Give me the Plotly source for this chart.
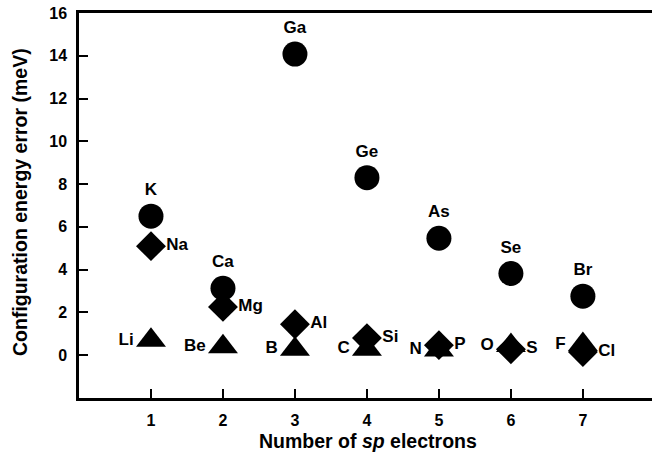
import plotly.graph_objects as go

# Data
circ_x = [1, 2, 3, 4, 5, 6, 7]
circ_y = [6.5, 3.13, 14.08, 8.3, 5.47, 3.82, 2.76]
circ_lab = ["K", "Ca", "Ga", "Ge", "As", "Se", "Br"]

dia_x = [1, 2, 3, 4, 5, 6, 7]
dia_y = [5.1, 2.26, 1.45, 0.8, 0.47, 0.28, 0.15]
dia_lab = ["Na", "Mg", "Al", "Si", "P", "S", "Cl"]

tri_x = [1, 2, 3, 4, 5, 6, 7]
tri_y = [0.7, 0.4, 0.28, 0.28, 0.25, 0.45, 0.5]
tri_lab = ["Li", "Be", "B", "C", "N", "O", "F"]

y_ticks = [0, 2, 4, 6, 8, 10, 12, 14, 16]
x_ticks = [1, 2, 3, 4, 5, 6, 7]

x_title = "Number of <i>sp</i> electrons"
y_title = "Configuration energy error (meV)"

FONT = "Liberation Sans, Arial, sans-serif"
lab_font = dict(family=FONT, size=17, color="black", weight="bold")

circ_pos = ["top center"] * 7
dia_pos = ["middle right"] * 7
tri_pos = ["middle left"] * 7

fig = go.Figure()
fig.add_trace(go.Scatter(x=dia_x, y=dia_y, mode="markers+text", text=dia_lab,
                         textposition=dia_pos, textfont=lab_font,
                         marker=dict(symbol="diamond", size=23, color="black"),
                         showlegend=False))
fig.add_trace(go.Scatter(x=tri_x, y=tri_y, mode="markers+text", text=tri_lab,
                         textposition=tri_pos, textfont=lab_font,
                         marker=dict(symbol="triangle-up", size=26, color="black"),
                         showlegend=False))
fig.add_trace(go.Scatter(x=circ_x, y=circ_y, mode="markers+text", text=circ_lab,
                         textposition=circ_pos, textfont=lab_font,
                         marker=dict(symbol="circle", size=25, color="black"),
                         showlegend=False))

fig.add_annotation(text=x_title, xref="paper", yref="paper", x=0.5035, y=-0.112,
                   xanchor="center", yanchor="middle", showarrow=False,
                   font=dict(family=FONT, size=19.5, weight="bold"))
fig.add_annotation(text=y_title, xref="paper", yref="paper", x=-0.103, y=0.509,
                   xanchor="center", yanchor="middle", showarrow=False, textangle=-90,
                   font=dict(family=FONT, size=19.5, weight="bold"))

fig.update_layout(
    width=652, height=462,
    margin=dict(l=79, r=0, t=13, b=64),
    plot_bgcolor="white", paper_bgcolor="white",
    font=dict(family=FONT, size=16, color="black"),
    xaxis=dict(range=[0, 7.96], tickvals=x_ticks, ticks="inside", ticklen=9,
               tickwidth=2, tickcolor="black", showline=True, linewidth=2.5,
               linecolor="black", mirror=True, showgrid=False, zeroline=False,
               ticklabelstandoff=6,
               tickfont=dict(family=FONT, size=16, weight="bold")),
    yaxis=dict(range=[-2, 16], tickvals=y_ticks, ticks="inside", ticklen=9,
               tickwidth=2, tickcolor="black", showline=True, linewidth=2.5,
               linecolor="black", showgrid=False, zeroline=False,
               ticklabelstandoff=6,
               tickfont=dict(family=FONT, size=16, weight="bold")),
)

fig.write_html("out.html")
